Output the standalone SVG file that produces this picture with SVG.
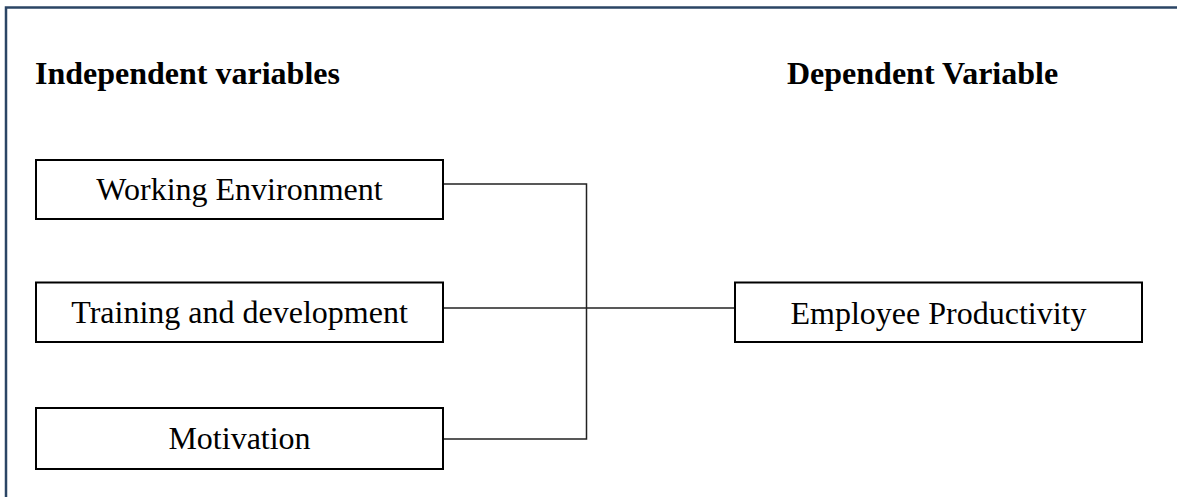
<svg xmlns="http://www.w3.org/2000/svg" width="1177" height="497" viewBox="0 0 1177 497">
<style>
.box{fill:#fff;stroke:#000;stroke-width:2}
.lbl{font-family:"Liberation Serif","Times New Roman",serif;font-size:32px;fill:#000;text-anchor:middle}
.hdr{font-family:"Liberation Serif","Times New Roman",serif;font-size:32px;font-weight:bold;fill:#000}
.con{fill:none;stroke:#222;stroke-width:1.5}
</style>
<rect x="0" y="0" width="1177" height="497" fill="#fff"/>
<rect x="6" y="7.5" width="1200" height="520" fill="none" stroke="#2b4565" stroke-width="2.5"/>
<text class="hdr" x="35" y="84">Independent variables</text>
<text class="hdr" x="787" y="84">Dependent Variable</text>
<g id="connectors">
<polyline class="con" points="443,184 586.5,184 586.5,439 443,439"/>
<line class="con" x1="443" y1="308" x2="735" y2="308"/>
</g>
<g id="working-environment">
<rect class="box" x="36" y="160" width="407" height="59"/>
<text class="lbl" x="239.5" y="200">Working Environment</text>
</g>
<g id="training-development">
<rect class="box" x="36" y="282.5" width="407" height="59.5"/>
<text class="lbl" x="239.5" y="323">Training and development</text>
</g>
<g id="motivation">
<rect class="box" x="36" y="408" width="407" height="61"/>
<text class="lbl" x="239.5" y="449">Motivation</text>
</g>
<g id="employee-productivity">
<rect class="box" x="735" y="282.5" width="407" height="59.5"/>
<text class="lbl" x="938.5" y="324">Employee Productivity</text>
</g>
</svg>
